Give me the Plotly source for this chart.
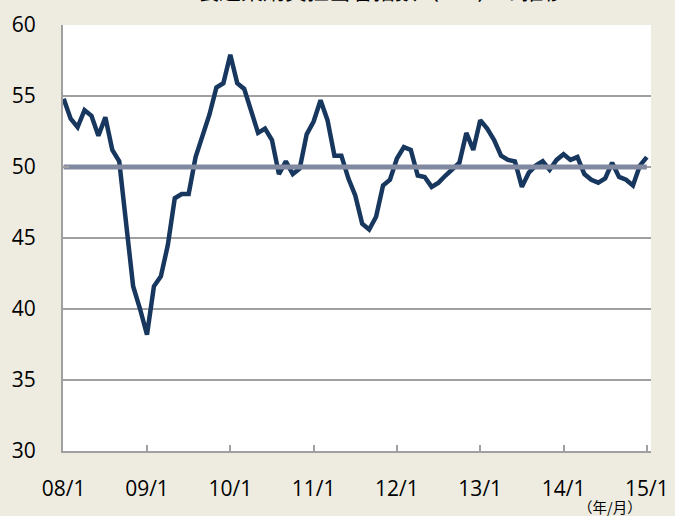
import plotly.graph_objects as go

# Monthly index, 2008/1 .. 2015/1
months = list(range(85))
tick_vals = [0, 12, 24, 36, 48, 60, 72, 84]
tick_text = ["08/1", "09/1", "10/1", "11/1", "12/1", "13/1", "14/1", "15/1"]

pmi = [
    54.8, 53.4, 52.8, 54.0, 53.6, 52.2, 53.5, 51.2, 50.4, 46.2,
    41.6, 40.0, 38.2, 41.6, 42.3, 44.5, 47.8, 48.1, 48.1, 50.7,
    52.3, 53.7, 55.6, 55.9, 57.9, 55.9, 55.5, 53.9, 52.4, 52.7,
    51.9, 49.5, 50.4, 49.5, 49.9, 52.3, 53.2, 54.7, 53.3, 50.8,
    50.8, 49.2, 48.0, 46.0, 45.6, 46.5, 48.7, 49.1, 50.6, 51.4,
    51.2, 49.4, 49.3, 48.6, 48.9, 49.4, 49.9, 50.3, 52.4, 51.2,
    53.3, 52.7, 51.9, 50.8, 50.5, 50.4, 48.6, 49.6, 50.1, 50.4,
    49.8, 50.5, 50.9, 50.5, 50.7, 49.5, 49.1, 48.9, 49.2, 50.3,
    49.3, 49.1, 48.7, 50.1, 50.7,
]
baseline = [50] * len(months)

title_text = "製造業購買担当者指数（PMI）の推移"
unit_text = "（年/月）"

fig = go.Figure()
fig.add_trace(go.Scatter(x=months, y=pmi, mode="lines",
                         line=dict(color="#17375E", width=4.5),
                         hoverinfo="skip", showlegend=False))
fig.add_trace(go.Scatter(x=months, y=baseline, mode="lines",
                         line=dict(color="#8089A0", width=5),
                         hoverinfo="skip", showlegend=False))

font_family = "Open Sans, Noto Sans CJK JP, sans-serif"

fig.update_layout(
    width=675, height=516,
    margin=dict(l=63, r=24, t=25, b=65),
    paper_bgcolor="#EEECE1",
    plot_bgcolor="#FFFFFF",
    font=dict(family=font_family, color="#000000"),
    xaxis=dict(
        range=[-0.1, 84.6], tickmode="array", tickvals=tick_vals, ticktext=tick_text,
        showgrid=False, zeroline=False, showline=True, linecolor="#A0A0A0", linewidth=2,
        ticks="inside", ticklen=6, tickcolor="#A0A0A0", tickwidth=1.5,
        tickfont=dict(size=21, family=font_family), ticklabelstandoff=18,
        automargin=False,
    ),
    yaxis=dict(
        range=[30, 60], tickmode="array", tickvals=[30, 35, 40, 45, 50, 55, 60],
        showgrid=True, gridcolor="#A0A0A0", gridwidth=1.5, zeroline=False,
        showline=True, linecolor="#A0A0A0", linewidth=2,
        ticks="inside", ticklen=6, tickcolor="#A0A0A0", tickwidth=1.5,
        tickfont=dict(size=21, family=font_family), ticklabelstandoff=21,
        automargin=False,
    ),
    annotations=[
        dict(text=title_text, xref="paper", yref="paper", x=0.54, y=1,
             xanchor="center", yanchor="bottom", yshift=18, showarrow=False,
             font=dict(size=22, family="Noto Sans CJK JP", color="#000000")),
        dict(text=unit_text, xref="paper", yref="paper", x=0.93, y=0,
             xanchor="center", yanchor="top", yshift=-43, showarrow=False,
             font=dict(size=14.5, family="Noto Sans CJK JP", color="#000000")),
    ],
)

fig.write_html(
    "out.html",
    config={"displayModeBar": False},
    post_script="document.body.style.margin='0';document.body.style.overflow='hidden';",
)
